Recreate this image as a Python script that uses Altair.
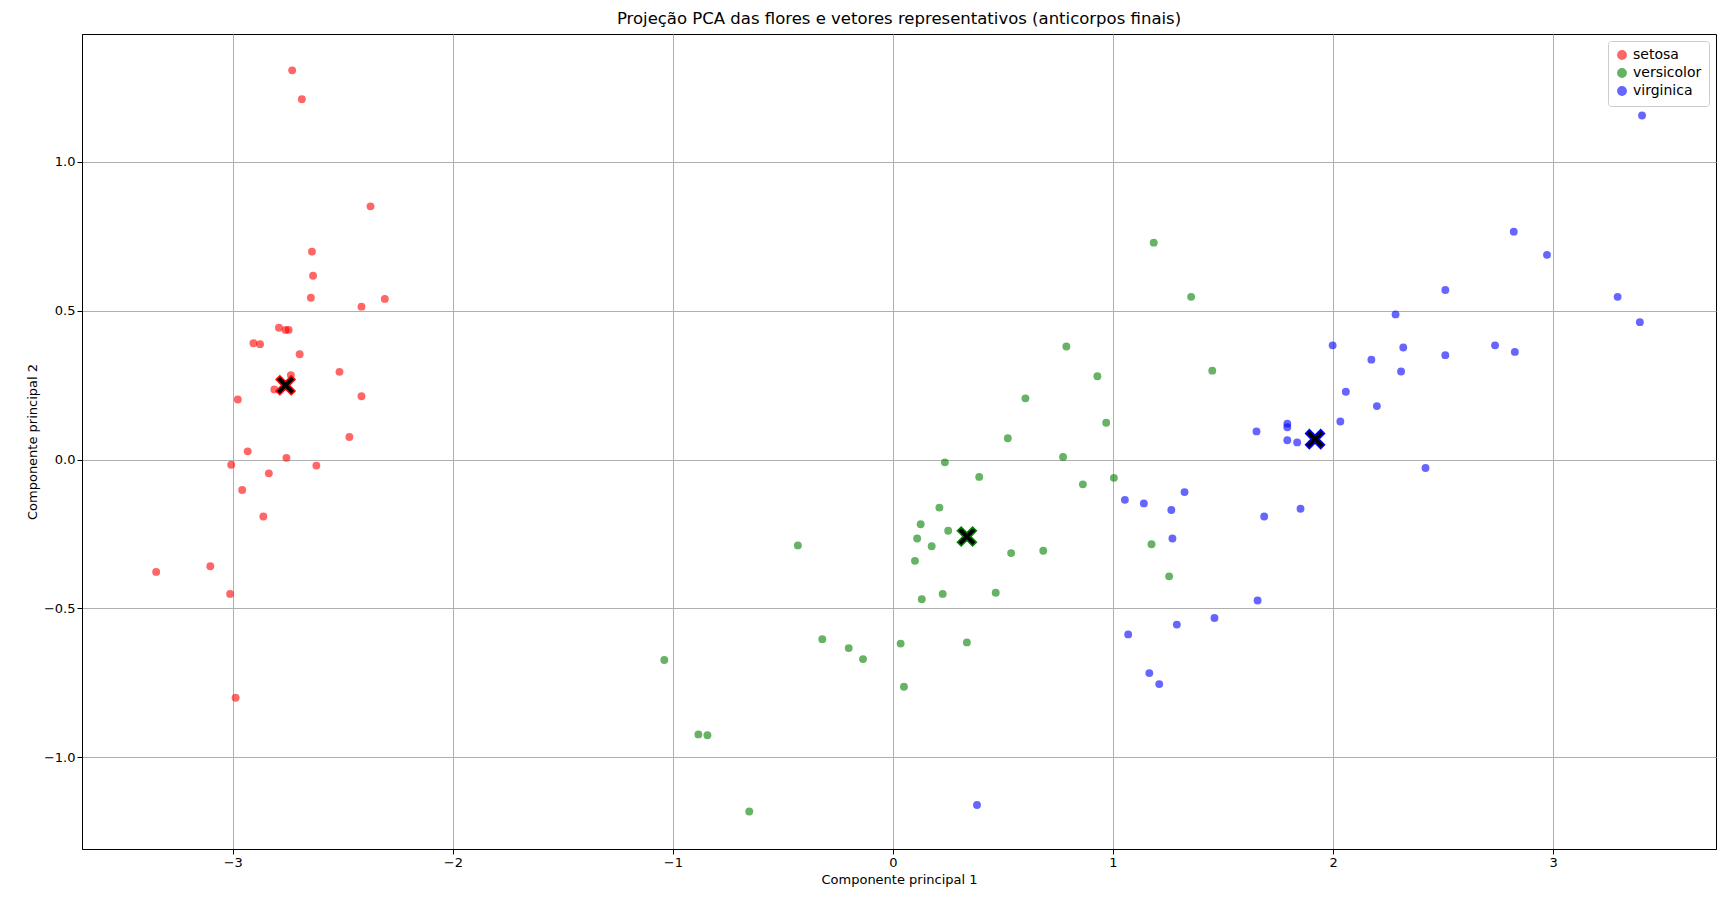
import altair as alt
import pandas as pd

setosa_x = [-2.73, -2.686, -2.374, -2.64, -2.635, -2.645, -2.415, -2.309, -2.79, -2.76, -2.746, -2.906,
            -2.876, -2.696, -2.515, -2.736, -2.811, -2.415, -2.977, -2.47, -2.932, -2.756, -3.007, -2.62,
            -2.836, -2.957, -2.861, -3.348, -3.102, -3.012, -2.987]
setosa_y = [1.308, 1.211, 0.851, 0.699, 0.618, 0.544, 0.514, 0.540, 0.443, 0.436, 0.436, 0.391,
            0.388, 0.354, 0.295, 0.284, 0.236, 0.213, 0.202, 0.076, 0.028, 0.006, -0.017, -0.02,
            -0.046, -0.102, -0.191, -0.377, -0.358, -0.451, -0.80]
versicolor_x = [1.185, 1.355, 0.788, 1.451, 0.929, 0.602, 0.969, 0.522, 0.773, 0.236, 0.392, 1.004,
                0.863, 0.211, 0.126, 0.251, 0.110, 0.176, -0.432, 0.683, 0.537, 1.175, 0.10, 1.255,
                0.226, 0.467, 0.131, -0.321, -0.201, -0.136, 0.035, 0.336, -1.039, 0.050, -0.884,
                -0.843, -0.653]
versicolor_y = [0.729, 0.547, 0.380, 0.299, 0.280, 0.206, 0.124, 0.072, 0.009, -0.009, -0.058, -0.061,
                -0.083, -0.161, -0.217, -0.239, -0.265, -0.291, -0.288, -0.306, -0.314, -0.284, -0.340,
                -0.392, -0.451, -0.447, -0.469, -0.603, -0.633, -0.670, -0.618, -0.614, -0.673, -0.763,
                -0.923, -0.926, -1.182]
virginica_x = [3.404, 2.821, 2.972, 2.51, 3.293, 2.284, 3.394, 1.998, 2.736, 2.319, 2.174, 2.51, 2.826,
               2.309, 2.058, 2.199, 2.033, 1.792, 1.792, 1.652, 1.792, 1.837, 2.42, 1.325, 1.054, 1.14,
               1.265, 1.852, 1.687, 1.27, 1.657, 1.461, 1.29, 1.069, 1.165, 1.21, 0.382]
virginica_y = [1.156, 0.766, 0.688, 0.570, 0.547, 0.488, 0.462, 0.384, 0.384, 0.377, 0.336, 0.351, 0.362,
               0.296, 0.228, 0.180, 0.128, 0.121, 0.109, 0.095, 0.065, 0.058, -0.028, -0.109, -0.135,
               -0.147, -0.169, -0.165, -0.191, -0.265, -0.473, -0.532, -0.554, -0.587, -0.717, -0.754,
               -1.16]
species = ["setosa", "versicolor", "virginica"]
colors = ["red", "green", "blue"]
centroid_x = [-2.76, 0.336, 1.918]
centroid_y = [0.25, -0.258, 0.069]

rows = []
for name, xs, ys in [("setosa", setosa_x, setosa_y), ("versicolor", versicolor_x, versicolor_y),
                     ("virginica", virginica_x, virginica_y)]:
    rows += [{"x": a, "y": b, "especie": name} for a, b in zip(xs, ys)]
df = pd.DataFrame(rows)
cent = pd.DataFrame({"x": centroid_x, "y": centroid_y, "especie": species})

minus = "replace(datum.label, '-', '\u2212')"
xs = alt.X("x:Q", title="Componente principal 1", scale=alt.Scale(domain=[-3.685, 3.74], nice=False),
           axis=alt.Axis(values=[-3, -2, -1, 0, 1, 2, 3], format="d", labelExpr=minus))
ys = alt.Y("y:Q", title="Componente principal 2", scale=alt.Scale(domain=[-1.308, 1.43], nice=False),
           axis=alt.Axis(values=[-1, -0.5, 0, 0.5, 1], format=".1f", labelExpr=minus))
cscale = alt.Scale(domain=species, range=colors)

pts = alt.Chart(df).mark_circle(size=62, opacity=0.6).encode(
    x=xs, y=ys,
    color=alt.Color("especie:N", scale=cscale,
                    legend=alt.Legend(title=None, orient="top-right", strokeColor="#cccccc",
                                      fillColor="white", padding=7, cornerRadius=3,
                                      labelFontSize=14, symbolSize=70, symbolOpacity=0.6, offset=7))
)

xshape = "M-1,-0.6L-0.6,-1L0,-0.4L0.6,-1L1,-0.6L0.4,0L1,0.6L0.6,1L0,0.4L-0.6,1L-1,0.6L-0.4,0Z"
cen = alt.Chart(cent).mark_point(shape=xshape, size=360, filled=True, fill="black",
                                 strokeWidth=1.5, opacity=1).encode(
    x="x:Q", y="y:Q",
    stroke=alt.Stroke("especie:N", scale=cscale, legend=None)
)

chart = (pts + cen).properties(
    width=1634, height=815,
    title=alt.TitleParams("Projeção PCA das flores e vetores representativos (anticorpos finais)",
                          fontSize=16.5, fontWeight="normal", offset=7),
    autosize=alt.AutoSizeParams(type="none"),
    padding={"left": 74, "top": 26, "right": 10, "bottom": 50}
).configure(font="DejaVu Sans").configure_axis(
    grid=True, gridColor="#b0b0b0", gridOpacity=1, domainColor="black", tickColor="black",
    labelColor="black", titleColor="black", labelFontSize=13, titleFontSize=13,
    titleFontWeight="normal", labelFlush=False, tickSize=5
).configure_view(stroke="black", strokeWidth=1)

chart.save("out.html", embed_options={"renderer": "svg", "actions": False})
